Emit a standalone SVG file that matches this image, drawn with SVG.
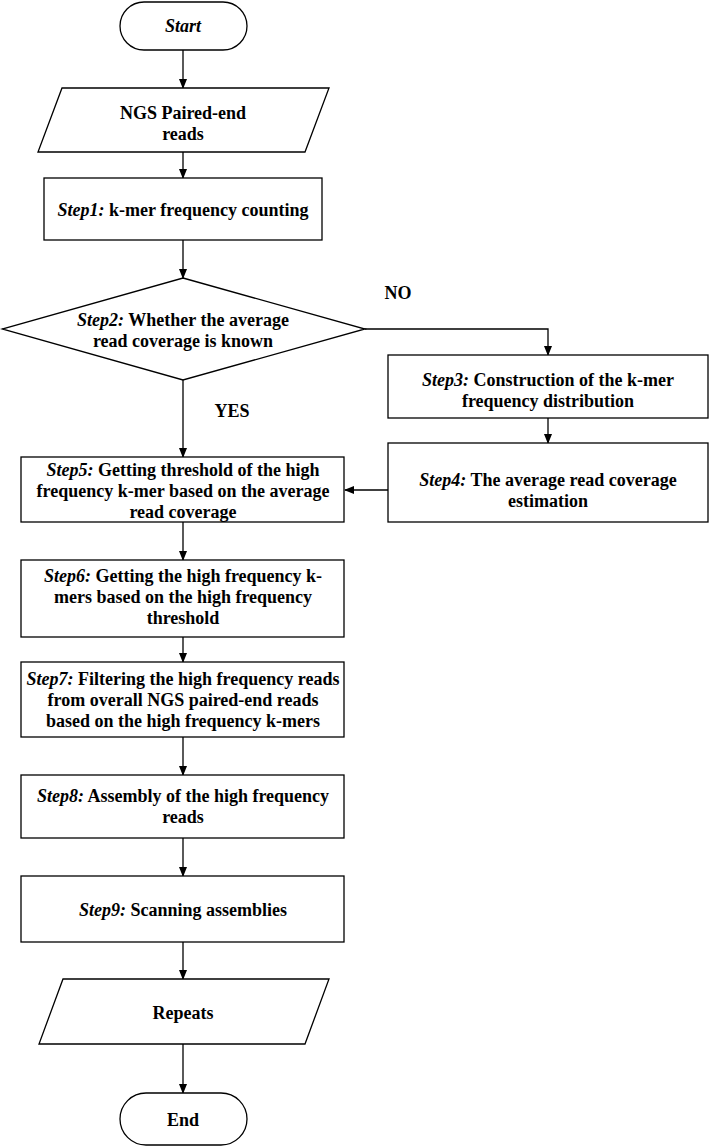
<svg xmlns="http://www.w3.org/2000/svg" width="709" height="1147" viewBox="0 0 709 1147">
<defs>
<style>
.s{fill:#fff;stroke:#000;stroke-width:1.3}
.t{font-family:"Liberation Serif",serif;font-size:18px;font-weight:bold;text-anchor:middle;fill:#000}
.i{font-style:italic}
.c{fill:none;stroke:#000;stroke-width:1.3;marker-end:url(#a)}
</style>
<marker id="a" markerWidth="10" markerHeight="10" refX="9" refY="5" orient="auto" markerUnits="userSpaceOnUse"><path d="M0,1 L10,5 L0,9 z" fill="#000"/></marker>
</defs>
<rect width="709" height="1147" fill="#fff"/>
<g id="connectors">
<path class="c" d="M183,50 V88"/>
<path class="c" d="M183,152 V178"/>
<path class="c" d="M183,240 V278"/>
<path class="c" d="M365,329 H548 V355"/>
<path class="c" d="M548,418 V443"/>
<path class="c" d="M388,490 H345"/>
<path class="c" d="M183,380 V457"/>
<path class="c" d="M183,522 V560"/>
<path class="c" d="M183,637 V662"/>
<path class="c" d="M183,737 V775"/>
<path class="c" d="M183,838 V876"/>
<path class="c" d="M183,942 V979"/>
<path class="c" d="M183,1044 V1093"/>
<text class="t" x="398" y="299">NO</text>
<text class="t" x="232" y="417">YES</text>
</g>
<g id="start"><rect class="s" x="120" y="2" width="127" height="48" rx="24"/><text class="t i" x="183" y="32">Start</text></g>
<g id="ngs"><polygon class="s" points="62,88 329,88 305,152 38,152"/><text class="t" x="183" y="119">NGS Paired-end</text><text class="t" x="183" y="140">reads</text></g>
<g id="step1"><rect class="s" x="44" y="178" width="278" height="62"/><text class="t" x="183" y="216"><tspan class="i">Step1:</tspan> k-mer frequency counting</text></g>
<g id="step2"><polygon class="s" points="183,278 365,329 183,380 2,329"/><text class="t" x="183" y="326"><tspan class="i">Step2:</tspan> Whether the average</text><text class="t" x="183" y="347">read coverage is known</text></g>
<g id="step3"><rect class="s" x="388" y="355" width="320" height="63"/><text class="t" x="548" y="386"><tspan class="i">Step3:</tspan> Construction of the k-mer</text><text class="t" x="548" y="407">frequency distribution</text></g>
<g id="step4"><rect class="s" x="388" y="443" width="320" height="79"/><text class="t" x="548" y="486"><tspan class="i">Step4:</tspan> The average read coverage</text><text class="t" x="548" y="507">estimation</text></g>
<g id="step5"><rect class="s" x="21" y="457" width="323" height="65"/><text class="t" x="183" y="476"><tspan class="i">Step5:</tspan> Getting threshold of the high</text><text class="t" x="183" y="497">frequency k-mer based on the average</text><text class="t" x="183" y="518">read coverage</text></g>
<g id="step6"><rect class="s" x="21" y="560" width="323" height="77"/><text class="t" x="183" y="582"><tspan class="i">Step6:</tspan> Getting the high frequency k-</text><text class="t" x="183" y="603">mers based on the high frequency</text><text class="t" x="183" y="624">threshold</text></g>
<g id="step7"><rect class="s" x="21" y="662" width="323" height="75"/><text class="t" x="183" y="685"><tspan class="i">Step7:</tspan> Filtering the high frequency reads</text><text class="t" x="183" y="706">from overall NGS paired-end reads</text><text class="t" x="183" y="727">based on the high frequency k-mers</text></g>
<g id="step8"><rect class="s" x="21" y="775" width="323" height="63"/><text class="t" x="183" y="802"><tspan class="i">Step8:</tspan> Assembly of the high frequency</text><text class="t" x="183" y="823">reads</text></g>
<g id="step9"><rect class="s" x="21" y="876" width="323" height="66"/><text class="t" x="183" y="916"><tspan class="i">Step9:</tspan> Scanning assemblies</text></g>
<g id="repeats"><polygon class="s" points="63,979 329,979 305,1044 39,1044"/><text class="t" x="183" y="1019">Repeats</text></g>
<g id="end"><rect class="s" x="120" y="1093" width="127" height="52" rx="26"/><text class="t" x="183" y="1126">End</text></g>
</svg>
